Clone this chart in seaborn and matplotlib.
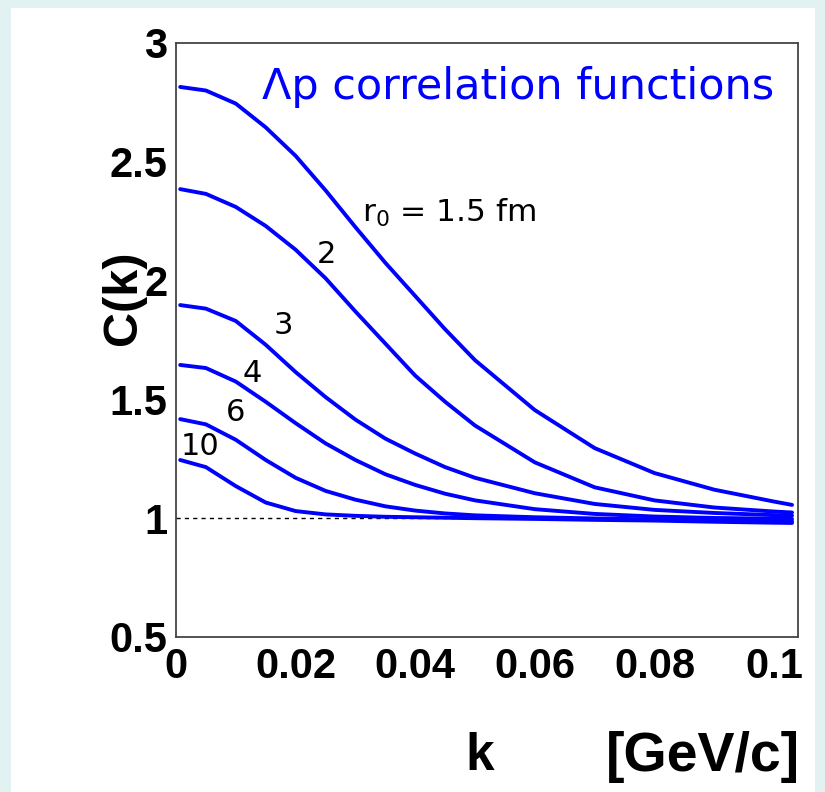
import matplotlib
matplotlib.use("Agg")
import matplotlib.pyplot as plt
from matplotlib.patches import Rectangle
import seaborn as sns
import pandas as pd

# ---- data ----
k_values = [0.0007, 0.005, 0.01, 0.015, 0.02, 0.025, 0.03, 0.035, 0.04,
            0.045, 0.05, 0.06, 0.07, 0.08, 0.09, 0.1, 0.103]
c_r1p5 = [2.815, 2.80, 2.745, 2.645, 2.525, 2.38, 2.225, 2.075, 1.935,
          1.795, 1.665, 1.455, 1.295, 1.19, 1.12, 1.07, 1.056]
c_r2 = [2.385, 2.365, 2.31, 2.23, 2.13, 2.01, 1.87, 1.735, 1.60,
        1.49, 1.39, 1.235, 1.13, 1.075, 1.045, 1.028, 1.024]
c_r3 = [1.897, 1.882, 1.83, 1.73, 1.615, 1.51, 1.415, 1.335, 1.272,
        1.215, 1.17, 1.105, 1.06, 1.035, 1.022, 1.013, 1.011]
c_r4 = [1.645, 1.632, 1.575, 1.49, 1.40, 1.315, 1.245, 1.185, 1.14,
        1.103, 1.075, 1.038, 1.018, 1.007, 1.001, 0.998, 0.997]
c_r6 = [1.417, 1.395, 1.33, 1.245, 1.17, 1.115, 1.078, 1.05, 1.032,
        1.02, 1.012, 1.004, 0.999, 0.995, 0.991, 0.988, 0.987]
c_r10 = [1.245, 1.215, 1.135, 1.066, 1.03, 1.016, 1.01, 1.006, 1.004,
         1.002, 1.0, 0.997, 0.993, 0.99, 0.985, 0.981, 0.98]
radii = ["1.5", "2", "3", "4", "6", "10"]
series = [c_r1p5, c_r2, c_r3, c_r4, c_r6, c_r10]
label_texts = ["2", "3", "4", "6", "10"]
label_pos = [(0.0251, 2.108), (0.0179, 1.813), (0.0127, 1.611),
             (0.0100, 1.443), (0.0040, 1.300)]
x_ticks = [0, 0.02, 0.04, 0.06, 0.08, 0.1]
x_ticklabels = ["0", "0.02", "0.04", "0.06", "0.08", "0.1"]
y_ticks = [0.5, 1, 1.5, 2, 2.5, 3]
y_ticklabels = ["0.5", "1", "1.5", "2", "2.5", "3"]

rows = []
for r, vals in zip(radii, series):
    for kk, cc in zip(k_values, vals):
        rows.append({"k": kk, "C": cc, "r0": r})
df = pd.DataFrame(rows)

sns.set_theme(style="white")
plt.rcParams["font.family"] = ["DejaVu Sans"]

fig = plt.figure(figsize=(8.25, 7.92), dpi=100)
fig.patch.set_facecolor("#e2f2f3")
fig.patches.append(Rectangle((11 / 825, 0), (815 - 11) / 825, (792 - 8) / 792,
                             transform=fig.transFigure, facecolor="white",
                             edgecolor="none", zorder=-10))

ax = fig.add_axes([176 / 825, (792 - 637) / 792, (798 - 176) / 825, (637 - 43) / 792])
ax.set_facecolor("white")

sns.lineplot(data=df, x="k", y="C", hue="r0", palette=["#0000ff"] * 6,
             linewidth=2.8, legend=False, ax=ax, sort=False, estimator=None)

ax.hlines(1.0, 0, 0.1025, colors="black", linestyles=(0, (3, 3)), linewidth=1.0, zorder=1)

ax.set_xlim(0, 0.104)
ax.set_ylim(0.5, 3)
ax.set_xticks(x_ticks)
ax.set_xticklabels(x_ticklabels)
ax.set_yticks(y_ticks)
ax.set_yticklabels(y_ticklabels)
for lab in ax.get_xticklabels() + ax.get_yticklabels():
    lab.set_fontfamily("Liberation Sans")
    lab.set_fontweight("bold")
    lab.set_fontsize(30)
    lab.set_color("black")
ax.tick_params(axis="both", direction="in", length=13.5, width=1.2, color="#333333")
ax.tick_params(axis="x", pad=7)
ax.tick_params(axis="y", pad=6)
for s in ax.spines.values():
    s.set_color("#444444")
    s.set_linewidth(1.3)
ax.set_xlabel("")
ax.set_ylabel("")

fig.text(124 / 825, 1 - 298 / 792, "C(k)", rotation=90, ha="center", va="center",
         fontsize=35, fontweight="bold", family="Liberation Sans", color="black")
fig.text(480 / 825, 1 - 757 / 792, "k", ha="center", va="center",
         fontsize=37, fontweight="bold", family="Liberation Sans", color="black")
fig.text(800 / 825, 1 - 757 / 792, "[GeV/c]", ha="right", va="center",
         fontsize=40, fontweight="bold", family="Liberation Sans", color="black")

ax.text(0.0144, 2.815, "Λp correlation functions", color="#0000ff",
        fontsize=31, ha="left", va="center", family="DejaVu Sans")
ax.text(0.0311, 2.285, "r$_0$ = 1.5 fm", color="black", fontsize=22.5,
        ha="left", va="center")
for t, (x, y) in zip(label_texts, label_pos):
    ax.text(x, y, t, color="black", fontsize=22, ha="center", va="center")

fig.savefig("out.png", dpi=100, facecolor=fig.get_facecolor())
